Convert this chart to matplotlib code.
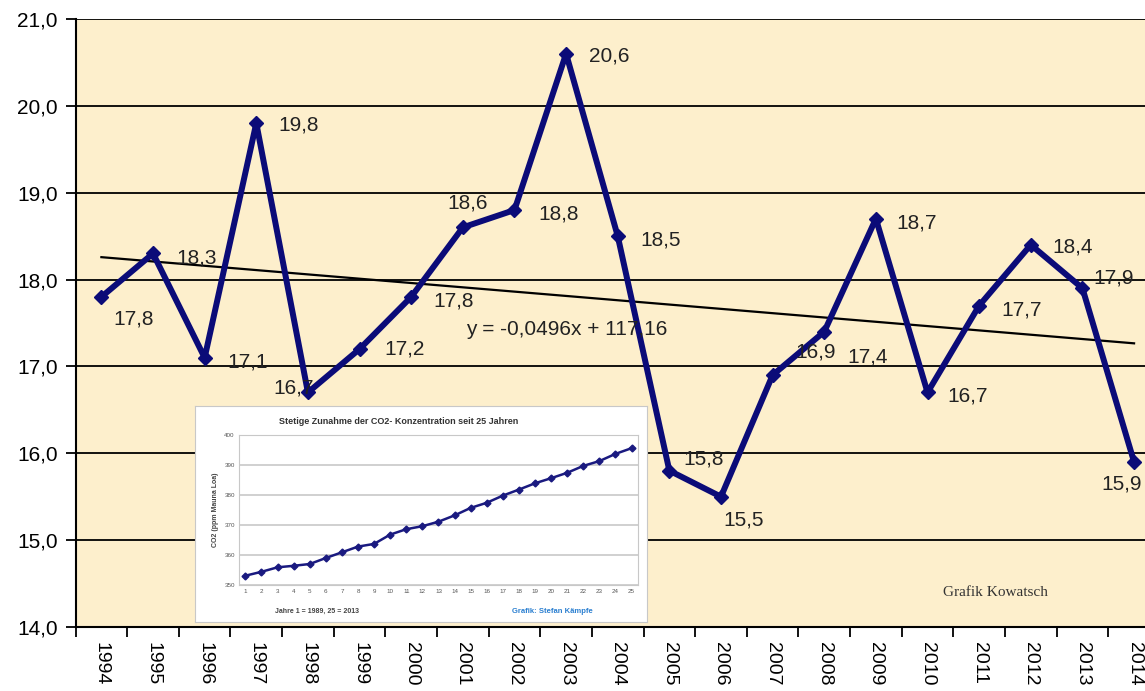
"""
Jahresmitteltemperatur mit Trendlinie und eingebetteter CO2-Grafik
"""

import numpy as np
import matplotlib.pyplot as plt
from matplotlib.ticker import FuncFormatter

plt.rcParams['font.family'] = ['Liberation Sans', 'DejaVu Sans']

# Hauptreihe
years = list(range(1994, 2015))
temps = [17.8, 18.3, 17.1, 19.8, 16.7, 17.2, 17.8, 18.6, 18.8, 20.6, 18.5,
         15.8, 15.5, 16.9, 17.4, 18.7, 16.7, 17.7, 18.4, 17.9, 15.9]
trend_slope = -0.0496
trend_intercept = 117.16

# eingebettete CO2-Grafik (Mauna Loa, Jahr 1 = 1989)
co2_years = list(range(1, 26))
co2_ppm = [353.1, 354.4, 355.9, 356.4, 357.0, 359.0, 360.9, 362.8, 363.7, 366.8,
           368.6, 369.6, 371.1, 373.2, 375.7, 377.4, 379.8, 381.8, 383.9, 385.6,
           387.4, 389.7, 391.3, 393.7, 395.6]

# Position der Datenbeschriftungen (Pixel relativ zum Punkt)
label_offsets = [(12, -22), (23, -5), (23, -4), (22, -2), (-35, 4), (25, 0),
                 (22, -4), (-15, 24), (24, -4), (23, -2), (23, -4), (14, 12),
                 (2, -23), (23, 23), (23, -25), (20, -4), (20, -4), (22, -4),
                 (22, -2), (11, 10), (-33, -22)]

navy = '#0b0b78'
fig = plt.figure(figsize=(11.45, 6.91), dpi=100)
ax = fig.add_axes([0.066, 0.0926, 0.947, 0.88])
ax.set_facecolor('#fdefcc')

for y in range(15, 22):
    ax.axhline(y, color='black', linewidth=1.3, zorder=1)

ax.plot(years, temps, color=navy, linewidth=4.3, marker='D', markersize=7,
        zorder=3, solid_joinstyle='round')

trend_x = np.array([years[0], years[-1]])
ax.plot(trend_x, trend_slope * trend_x + trend_intercept, color='black',
        linewidth=1.6, zorder=2)

for yr, t, (dx, dy) in zip(years, temps, label_offsets):
    ax.annotate(f'{t:.1f}'.replace('.', ','), (yr, t), xytext=(dx, dy),
                textcoords='offset pixels', ha='left', va='center',
                fontsize=15, color='#222222', zorder=4)

ax.text(2001.07, 17.43, 'y = -0,0496x + 117,16', fontsize=15, color='#222222',
        va='center', ha='left', zorder=4)
ax.text(2010.3, 14.4, 'Grafik Kowatsch', family='Liberation Serif', fontsize=11,
        color='#333333', va='center', ha='left', zorder=4)

ax.set_xlim(1993.5, 2014.5)
ax.set_ylim(14, 21)
ax.set_yticks(range(14, 22))
ax.yaxis.set_major_formatter(FuncFormatter(lambda v, p: f'{v:.1f}'.replace('.', ',')))
ax.set_xticks(years)
ax.set_xticklabels([str(y) for y in years], rotation=-90, fontsize=14)
ax.set_xticks(np.arange(1993.5, 2015, 1), minor=True)
ax.tick_params(axis='x', which='major', length=0, pad=11)
ax.tick_params(axis='x', which='minor', length=7, width=1.3, direction='out')
ax.tick_params(axis='y', length=7, width=1.3, direction='out', labelsize=15, pad=6)
for side in ['top', 'right']:
    ax.spines[side].set_visible(False)
for side in ['left', 'bottom']:
    ax.spines[side].set_linewidth(1.5)

# eingebettete Grafik
box = fig.add_axes([0.1703, 0.0999, 0.3948, 0.3126], zorder=5)
box.set_facecolor('white')
box.set_xticks([])
box.set_yticks([])
for s in box.spines.values():
    s.set_color('#c8c8c8')
box.text(0.45, 0.93, 'Stetige Zunahme der CO2- Konzentration seit 25 Jahren',
         transform=box.transAxes, ha='center', va='center', fontsize=6.5,
         fontweight='bold', color='#333333')
box.text(0.27, 0.05, 'Jahre 1 = 1989, 25 = 2013', transform=box.transAxes,
         ha='center', va='center', fontsize=5, fontweight='bold', color='#444444')
box.text(0.79, 0.05, 'Grafik: Stefan Kämpfe', transform=box.transAxes,
         ha='center', va='center', fontsize=5.5, fontweight='bold', color='#2a7fd0')

inset = fig.add_axes([0.2087, 0.1534, 0.3485, 0.2171], zorder=6)
inset.set_facecolor('white')
inset.plot(co2_years, co2_ppm, color='#1a1a80', linewidth=1.8, marker='D',
           markersize=3.5)
inset.set_xlim(0.6, 25.4)
inset.set_ylim(350, 400)
inset.set_yticks(range(350, 401, 10))
inset.set_xticks(co2_years)
inset.grid(axis='y', color='#c8c8c8', linewidth=1.2)
inset.tick_params(labelsize=4.5, length=0, colors='#555555', pad=3)
inset.set_ylabel('CO2 (ppm Mauna Loa)', fontsize=5, fontweight='bold',
                 color='#444444', labelpad=4)
for s in inset.spines.values():
    s.set_color('#c8c8c8')

plt.savefig('out.png', dpi=100)
